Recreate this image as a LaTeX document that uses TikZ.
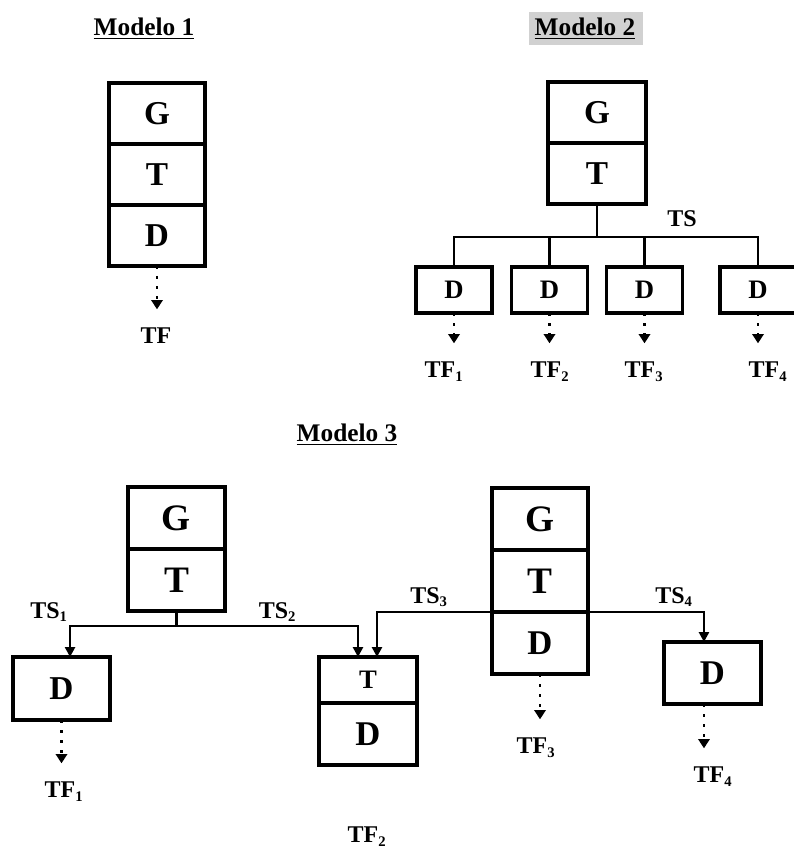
\documentclass[tikz,border=0pt]{standalone}
\usepackage{fontspec}
\setmainfont{Liberation Serif}
\usetikzlibrary{positioning,arrows.meta}

\newcommand{\tsub}[1]{\textsubscript{\fontsize{11}{11}\selectfont #1}}

\tikzset{
	cell/.style={draw, line width=2.5pt, inner sep=0pt, outer sep=0pt,
		minimum width=72pt, minimum height=46pt, font=\bfseries\fontsize{25}{25}\selectfont},
	big/.style={font=\bfseries\fontsize{28}{28}\selectfont},
	mid/.style={font=\bfseries\fontsize{26}{26}\selectfont},
	small/.style={font=\bfseries\fontsize{20}{20}\selectfont},
	leaf/.style={cell, small, minimum width=57pt, minimum height=34.5pt},
	wire/.style={line width=2pt},
	ts/.style={wire, -{Triangle[width=7.5pt,length=7.5pt]}},
	flow/.style={line width=2pt, dash pattern=on 2pt off 5.5pt,
		-{Triangle[width=8.5pt,length=7pt]}, shorten >=14pt},
	lbl/.style={anchor=north, inner sep=0pt, font=\bfseries\fontsize{18}{18}\selectfont},
	title/.style={anchor=north, inner sep=0pt, font=\bfseries\fontsize{19}{19}\selectfont},
}

\begin{document}
\begin{tikzpicture}[x=0.75pt,y=-0.75pt]
	\useasboundingbox (0,0) rectangle (793,848);

	% Modelo 1
	\node[title] (m1) at (144,18) {\underline{Modelo 1}};
	\node[cell, minimum height=45.75pt] (g1) at (157,113.5) {G};
	\node[cell, minimum height=45.75pt, below=0pt of g1] (t1) {T};
	\node[cell, minimum height=45.75pt, below=0pt of t1] (d1) {D};
	\node[lbl] (tf1) at (156,328) {TF};
	\draw[flow] (d1.south) -- (d1.south |- tf1.north);

	% Modelo 2
	\fill[black!18] (529,12) rectangle (643,45);
	\node[title] (m2) at (585,18) {\underline{Modelo 2}};
	\node[cell, minimum width=73.5pt, minimum height=45.75pt] (g2) at (597,112.5) {G};
	\node[cell, minimum width=73.5pt, minimum height=45.75pt, below=0pt of g2] (t2) {T};
	\node[leaf] (d21) at (454,290) {D};
	\node[leaf] (d22) at (549.5,290) {D};
	\node[leaf] (d23) at (644.5,290) {D};
	\node[leaf] (d24) at (758,290) {D};
	\draw[wire] (t2.south) -- ++(0,33) coordinate (hub2);
	\draw[wire] (d21.north) |- (hub2) -| (d24.north);
	\draw[wire] (d22.north) -- (d22.north |- hub2);
	\draw[wire] (d23.north) -- (d23.north |- hub2);
	\node[lbl] (ts2) at (682,210) {TS};
	\node[lbl] (tf21) at (444,362) {TF\tsub{1}};
	\node[lbl] (tf22) at (550,362) {TF\tsub{2}};
	\node[lbl] (tf23) at (644,362) {TF\tsub{3}};
	\node[lbl] (tf24) at (768,362) {TF\tsub{4}};
	\draw[flow] (d21.south) -- (d21.south |- tf21.north);
	\draw[flow] (d22.south) -- (d22.south |- tf22.north);
	\draw[flow] (d23.south) -- (d23.south |- tf23.north);
	\draw[flow] (d24.south) -- (d24.south |- tf24.north);

	% Modelo 3
	\node[title] (m3) at (347,424) {\underline{Modelo 3}};
	\node[cell, big, minimum width=72.75pt, minimum height=46.5pt] (g3) at (176.5,518) {G};
	\node[cell, big, minimum width=72.75pt, minimum height=46.5pt, below=0pt of g3] (t3) {T};
	\node[cell, minimum width=72.75pt, minimum height=47.25pt] (d31) at (61.5,688.5) {D};
	\node[cell, small, minimum width=73.5pt, minimum height=34.5pt] (t32) at (368,680) {T};
	\node[cell, mid, minimum width=73.5pt, minimum height=46.5pt, below=0pt of t32] (d32) {D};
	\node[cell, big, minimum height=46.5pt] (g33) at (540,519) {G};
	\node[cell, big, minimum height=46.5pt, below=0pt of g33] (t33) {T};
	\node[cell, mid, minimum height=46.5pt, below=0pt of t33] (d33) {D};
	\node[cell, mid, minimum width=72.75pt, minimum height=46.5pt] (d34) at (712.5,673) {D};

	\draw[wire] (t3.south) -- ++(0,15) coordinate (hub3);
	\draw[ts] (hub3) -| ([xshift=6.4pt]d31.north);
	\draw[ts] (hub3) -| ([xshift=-7.5pt]t32.north);
	\draw[ts] (t33.south west) -| ([xshift=6.75pt]t32.north);
	\draw[ts] (t33.south east) -| ([xshift=-6.4pt]d34.north);

	\node[lbl] (ts31) at (49,602) {TS\tsub{1}};
	\node[lbl] (ts32) at (277.5,602) {TS\tsub{2}};
	\node[lbl] (ts33) at (429,587) {TS\tsub{3}};
	\node[lbl] (ts34) at (674,587) {TS\tsub{4}};

	\node[lbl] (tf31) at (64,782) {TF\tsub{1}};
	\node[lbl] (tf32) at (367,827) {TF\tsub{2}};
	\node[lbl] (tf33) at (536,738) {TF\tsub{3}};
	\node[lbl] (tf34) at (713,767) {TF\tsub{4}};
	\draw[flow] (d31.south) -- (d31.south |- tf31.north);
	\draw[flow] (d33.south) -- (d33.south |- tf33.north);
	\draw[flow] ([xshift=-6.4pt]d34.south) -- ([xshift=-6.4pt]d34.south |- tf34.north);
\end{tikzpicture}
\end{document}
